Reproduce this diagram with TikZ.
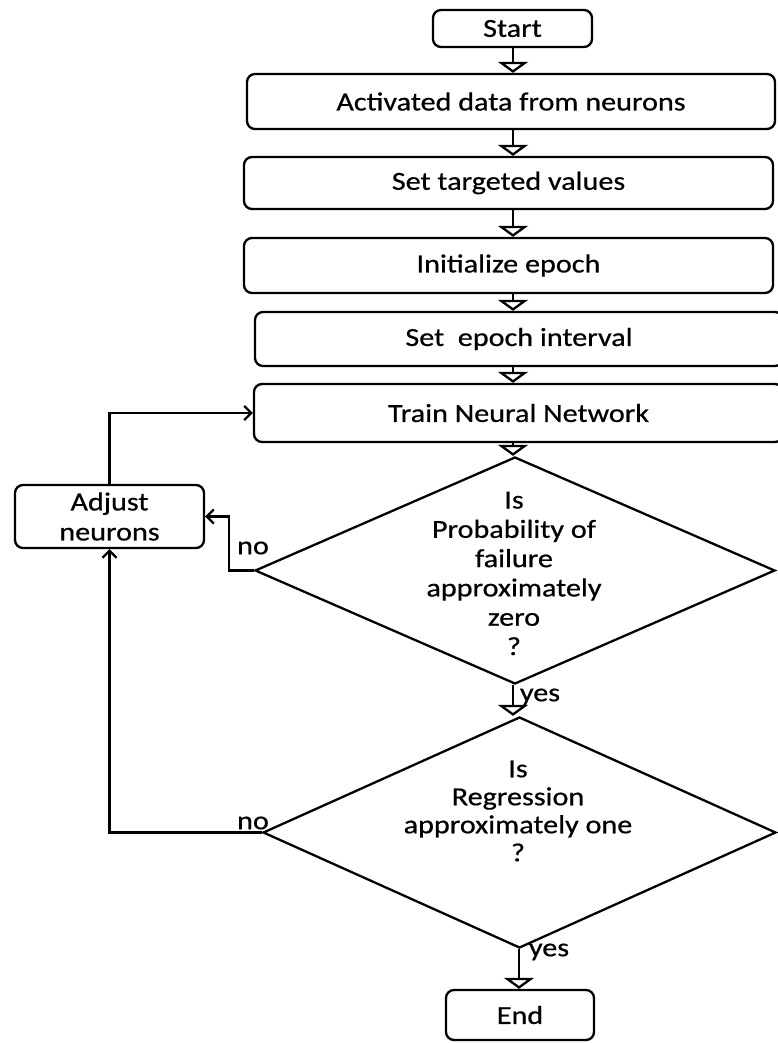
\documentclass[tikz,border=0pt]{standalone}
\usepackage{fontspec}
\setmainfont{Carlito}[FakeStretch=1.16,FakeBold=0.6]
\usetikzlibrary{shapes.geometric,arrows.meta}

\begin{document}
\begin{tikzpicture}[x=1pt,y=-1pt,line width=2.3pt,
  every node/.style={font=\fontsize{26}{29.3}\selectfont,inner sep=0pt},
  stepbox/.style={draw,rounded corners=8pt},
  decision/.style={draw,diamond,inner sep=0pt},
  flow/.style={-{Triangle[open,length=11pt,width=30pt]}},
  back/.style={-{Straight Barb[length=7pt,width=14pt]}},
  tag/.style={anchor=center}]
\useasboundingbox (0,0) rectangle (778,1043);
\clip (0,0) rectangle (778,1043);

% column positions of the downward flow
\coordinate (col) at (513,0);
\coordinate (endcol) at (519,0);

% process boxes
\node[stepbox,minimum width=159pt,minimum height=37pt] (start) at (512.5,28.5) {Start};
\node[stepbox,minimum width=528pt,minimum height=55pt] (act) at (511,101.5) {Activated data from neurons};
\node[stepbox,minimum width=529pt,minimum height=52pt] (target) at (508.5,183) {Set targeted values};
\node[stepbox,minimum width=529pt,minimum height=55pt] (init) at (508.5,265.5) {Initialize epoch};
\node[stepbox,minimum width=528pt,minimum height=54pt] (interval) at (519,339) {Set\ \ epoch interval};
\node[stepbox,minimum width=529pt,minimum height=58pt] (train) at (518.5,413) {Train Neural Network};

% decisions
\node[decision,minimum width=520pt,minimum height=227pt] (d1) at (515,570.5) {};
\node[align=center] (q1) at (514,573.5) {Is\\Probability of\\failure\\approximately\\zero\\?};
\node[decision,minimum width=513pt,minimum height=231pt] (d2) at (519.5,832.5) {};
\node[align=center,font=\fontsize{26}{28}\selectfont] (q2) at (518,811) {Is\\Regression\\approximately one\\?};

\node[stepbox,minimum width=148pt,minimum height=50pt] (end) at (520,1015) {End};

\node[stepbox,align=center,font=\fontsize{26}{30}\selectfont,minimum width=189pt,minimum height=63pt] (adj) at (109.5,516.5) {Adjust\\neurons};

% main flow
\draw[flow] (start.south -| col) -- (act.north -| col);
\draw[flow] (act.south -| col) -- (target.north -| col);
\draw[flow] (target.south -| col) -- (init.north -| col);
\draw[flow] (init.south -| col) -- (interval.north -| col);
\draw[flow] (interval.south -| col) -- (train.north -| col);
\draw[flow] (train.south -| col) -- (d1.north -| col);
\draw[flow] (d1.south -| col) -- (d2.north -| col);
\draw[flow] (d2.south -| endcol) -- (end.north -| endcol);

% feedback loops
\draw[back] (adj.north) |- (train.west);
\draw[back] (d1.west) -- ++(-25,0) |- (adj.east);
\draw[back] (d2.west) -| (adj.south);

% branch labels
\node[tag] (no1) at (253,548) {no};
\node[tag] (no2) at (253,823) {no};
\node[tag] (yes1) at (540,697) {yes};
\node[tag] (yes2) at (549,952) {yes};
\end{tikzpicture}
\end{document}
